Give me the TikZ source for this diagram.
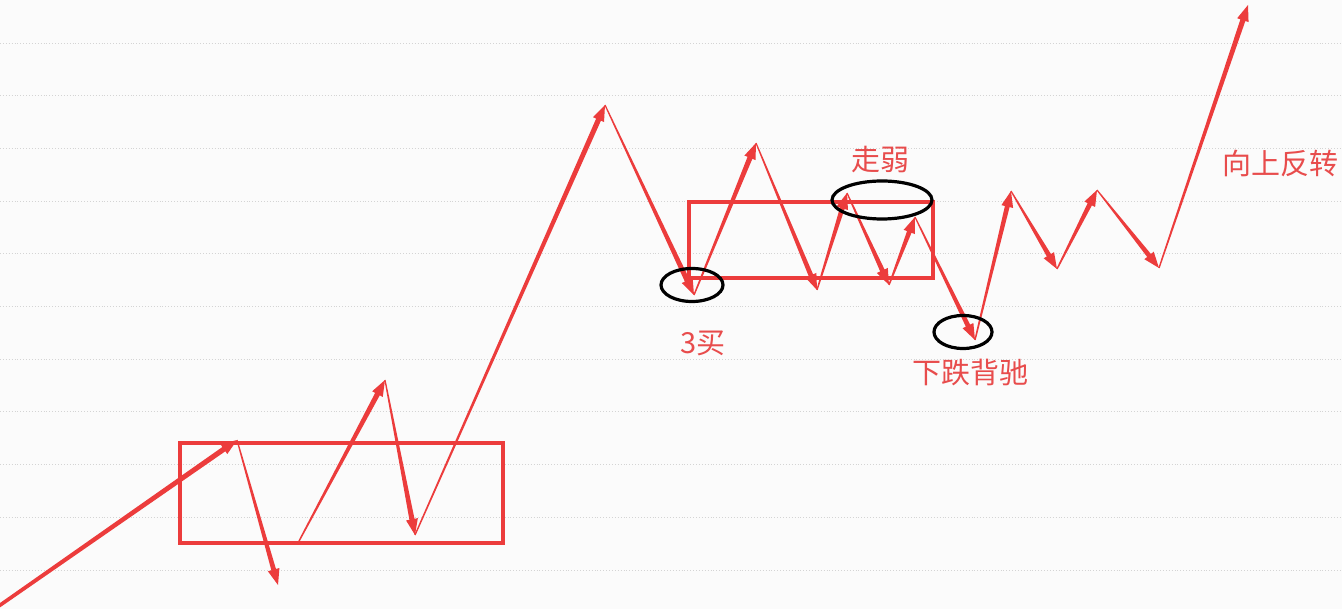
\documentclass[tikz,border=0pt]{standalone}
\usepackage{fontspec}
\newfontfamily\cjk{Noto Sans CJK SC}
\usetikzlibrary{calc,shapes.geometric}
\definecolor{lred}{RGB}{236,60,60}
\definecolor{tred}{RGB}{232,76,76}
\definecolor{gridc}{RGB}{212,212,212}
\definecolor{bgc}{RGB}{251,251,251}
\tikzset{
  boxr/.style={draw=lred,line width=3.6pt,rectangle,inner sep=0pt},
  ring/.style={draw=black,line width=3.2pt,ellipse,inner sep=0pt},
  lab/.style={text=tred,font=\cjk\fontsize{29}{31}\selectfont,inner sep=0pt},
  gridl/.style={gridc,dotted,line width=0.9pt}
}
% tapered arrow: from, to, start half width, shaft end half width
\newcommand\taper[4]{%
  \path ($(#2)!16pt!(#1)$) coordinate (tb);
  \fill[lred] ($(#1)!#3!90:(#2)$) -- ($(tb)!#4!90:(#2)$) -- ($(tb)!6pt!90:(#2)$)
    -- (#2) -- ($(tb)!6pt!-90:(#2)$) -- ($(tb)!#4!-90:(#2)$) -- ($(#1)!#3!-90:(#2)$) -- cycle;
}
\begin{document}
\begin{tikzpicture}[x=1pt,y=-1pt]
\useasboundingbox (0,0) rectangle (1342,609);
\fill[bgc] (0,0) rectangle (1342,609);
\foreach \k in {0,...,10}{
  \draw[gridl] (0,{43+52.7*\k}) -- (1342,{43+52.7*\k});
}
% points
\coordinate (a0) at (-4,608);
\coordinate (a1) at (237,440);
\coordinate (b1) at (278,585);
\coordinate (c0) at (298,543);
\coordinate (c1) at (385,380);
\coordinate (c2) at (415,535);
\coordinate (c3) at (605,105);
\coordinate (c4) at (694,295);
\coordinate (c5) at (756,143);
\coordinate (c6) at (817,290);
\coordinate (c7) at (847,193);
\coordinate (c8) at (889,285);
\coordinate (c9) at (915,217);
\coordinate (c10) at (975,340);
\coordinate (c11) at (1011,191);
\coordinate (c12) at (1057,269);
\coordinate (c13) at (1097,190);
\coordinate (c14) at (1159,268);
\coordinate (c15) at (1248,5);
% arrows
\taper{a0}{a1}{1.8pt}{2.6pt}
\taper{a1}{b1}{0.6pt}{2.4pt}
\taper{c0}{c1}{0.7pt}{2.6pt}
\taper{c1}{c2}{0.6pt}{2.6pt}
\taper{c2}{c3}{0.7pt}{2.6pt}
\taper{c3}{c4}{0.6pt}{2.6pt}
\taper{c4}{c5}{0.7pt}{2.6pt}
\taper{c5}{c6}{0.6pt}{2.4pt}
\taper{c6}{c7}{0.7pt}{2.4pt}
\taper{c7}{c8}{0.6pt}{2.4pt}
\taper{c8}{c9}{0.7pt}{2.4pt}
\taper{c9}{c10}{0.6pt}{2.4pt}
\taper{c10}{c11}{0.7pt}{2.4pt}
\taper{c11}{c12}{0.6pt}{2.4pt}
\taper{c12}{c13}{0.7pt}{2.4pt}
\taper{c13}{c14}{0.6pt}{2.4pt}
\taper{c14}{c15}{0.7pt}{2.6pt}
% boxes
\node[boxr,minimum width=323pt,minimum height=100pt] (box1) at (341.5,493) {};
\node[boxr,minimum width=244pt,minimum height=76pt] (box2) at (811,240) {};
% rings
\node[ring,minimum width=62pt,minimum height=33pt] (e1) at (692,285) {};
\node[ring,minimum width=100pt,minimum height=38pt] (e2) at (882,200) {};
\node[ring,minimum width=58pt,minimum height=33pt] (e3) at (963,332) {};
% labels
\node[lab] (t1) at (703,343) {3买};
\node[lab] (t2) at (880,160) {走弱};
\node[lab] (t3) at (970,373) {下跌背驰};
\node[lab] (t4) at (1280,163) {向上反转};
\end{tikzpicture}
\end{document}
